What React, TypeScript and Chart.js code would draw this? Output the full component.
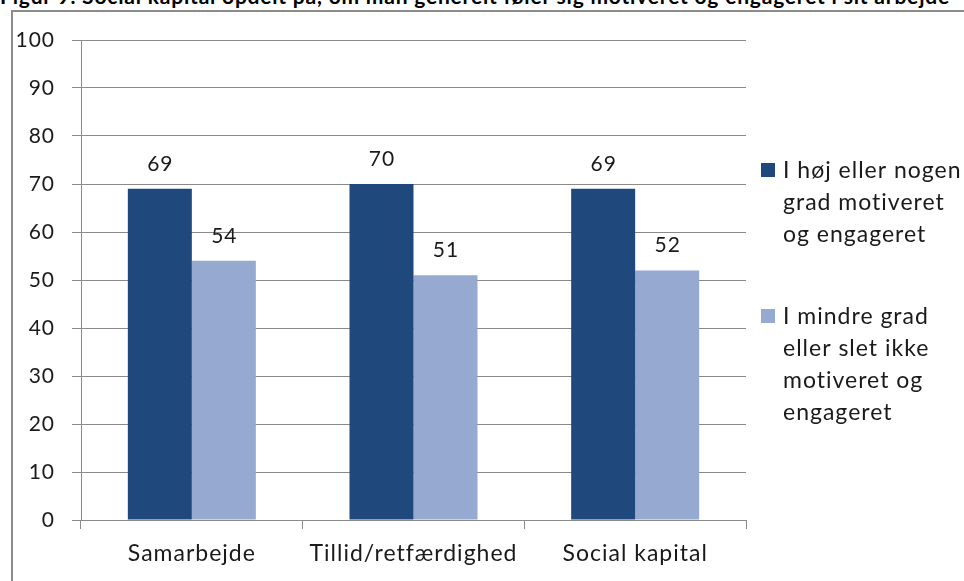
import React, { useEffect, useRef } from "react";
import { Chart, registerables } from "chart.js";

Chart.register(...registerables);

const title =
  "Figur 9. Social kapital opdelt på, om man generelt føler sig motiveret og engageret i sit arbejde";

const categories = ["Samarbejde", "Tillid/retfærdighed", "Social kapital"];
const highMotivation = [69, 70, 69];
const lowMotivation = [54, 51, 52];

const legendHigh = ["I høj eller nogen", "grad motiveret", "og engageret"];
const legendLow = ["I mindre grad", "eller slet ikke", "motiveret og", "engageret"];

const yMin = 0;
const yMax = 100;
const yStep = 10;

const DARK = "#1F497D";
const LIGHT = "#95A9D1";
const GRID = "#8a8a8a";
const TEXT = "#1a1a1a";
const FONT = "Lato, 'Open Sans', sans-serif";
const FONT_SIZE = 23;
const NUMBER_SIZE = 21;
const LETTER_SPACING = "1px";

// Slightly looser tracking for every text drawn on the canvas
const textTracking = {
  id: "textTracking",
  beforeLayout(chart: any) {
    chart.ctx.letterSpacing = LETTER_SPACING;
  },
  beforeDraw(chart: any) {
    chart.ctx.letterSpacing = LETTER_SPACING;
  },
};

// Value labels above each bar
const barValueLabels = {
  id: "barValueLabels",
  afterDatasetsDraw(chart: any) {
    const ctx = chart.ctx;
    ctx.save();
    ctx.font = `${NUMBER_SIZE}px ${FONT}`;
    ctx.letterSpacing = LETTER_SPACING;
    ctx.fillStyle = TEXT;
    ctx.textAlign = "center";
    ctx.textBaseline = "alphabetic";
    chart.data.datasets.forEach((ds: any, i: number) => {
      const meta = chart.getDatasetMeta(i);
      meta.data.forEach((bar: any, j: number) => {
        ctx.fillText(String(ds.data[j]), bar.x + 0.5, bar.y - 18);
      });
    });
    ctx.restore();
  },
};

// Legend to the right of the plot, with wrapped multi-line entries
const sideLegend = {
  id: "sideLegend",
  afterDraw(chart: any) {
    const ctx = chart.ctx;
    const area = chart.chartArea;
    const boxX = area.right + 15;
    const textX = area.right + 37;
    const lineH = 32;
    const firstBaselines = [area.top + 138, area.top + 284];
    ctx.save();
    ctx.font = `${FONT_SIZE}px ${FONT}`;
    ctx.letterSpacing = LETTER_SPACING;
    ctx.textAlign = "left";
    ctx.textBaseline = "alphabetic";
    chart.data.datasets.forEach((ds: any, i: number) => {
      const base = firstBaselines[i];
      ctx.fillStyle = ds.backgroundColor;
      ctx.fillRect(boxX, base - 15, 14, 14);
      ctx.fillStyle = TEXT;
      (ds.legendLines as string[]).forEach((line, k) => {
        ctx.fillText(line, textX, base + k * lineH);
      });
    });
    ctx.restore();
  },
};

export default function App() {
  const canvasRef = useRef<HTMLCanvasElement | null>(null);

  useEffect(() => {
    if (!canvasRef.current) return;
    const chart = new Chart(canvasRef.current, {
      type: "bar",
      data: {
        labels: categories,
        datasets: [
          {
            label: legendHigh.join(" "),
            data: highMotivation,
            backgroundColor: DARK,
            legendLines: legendHigh,
          } as any,
          {
            label: legendLow.join(" "),
            data: lowMotivation,
            backgroundColor: LIGHT,
            legendLines: legendLow,
          } as any,
        ],
      },
      options: {
        animation: false,
        responsive: false,
        devicePixelRatio: 1,
        layout: { padding: { top: 40, right: 218, bottom: 0, left: 0 } },
        datasets: {
          bar: { categoryPercentage: 0.5775, barPercentage: 1 },
        },
        plugins: {
          legend: { display: false },
          tooltip: { enabled: false },
          title: { display: false },
        },
        scales: {
          x: {
            offset: true,
            grid: {
              offset: true,
              drawOnChartArea: false,
              drawTicks: true,
              tickLength: 9,
              color: GRID,
            },
            border: { display: true, color: GRID, width: 1 },
            ticks: {
              color: TEXT,
              font: { family: FONT, size: FONT_SIZE },
              padding: 11,
              maxRotation: 0,
            },
            afterFit: (scale: any) => {
              scale.height = 61;
            },
          },
          y: {
            min: yMin,
            max: yMax,
            grid: {
              color: GRID,
              drawTicks: true,
              tickLength: 9,
            },
            border: { display: true, color: GRID, width: 1 },
            ticks: {
              stepSize: yStep,
              color: TEXT,
              font: { family: FONT, size: NUMBER_SIZE },
              padding: 17,
            },
            afterFit: (scale: any) => {
              scale.width = 81;
            },
          },
        },
      },
      plugins: [textTracking, barValueLabels, sideLegend],
    });
    return () => chart.destroy();
  }, []);

  return (
    <div
      style={{
        position: "fixed",
        inset: 0,
        overflow: "hidden",
        background: "#ffffff",
      }}
    >
      <div
        style={{
          position: "absolute",
          left: 0,
          top: -15,
          fontFamily: FONT,
          fontWeight: 700,
          fontSize: 21,
          lineHeight: "21px",
          letterSpacing: "0.8px",
          whiteSpace: "nowrap",
          color: "#000",
        }}
      >
        {title}
      </div>
      <div
        style={{
          position: "absolute",
          left: 11,
          top: 10,
          width: 1200,
          height: 800,
          border: "2px solid #8c8c8c",
          boxSizing: "border-box",
        }}
      />
      <canvas
        ref={canvasRef}
        width={964}
        height={581}
        style={{ position: "absolute", left: 0, top: 0, width: 964, height: 581 }}
      />
    </div>
  );
}
